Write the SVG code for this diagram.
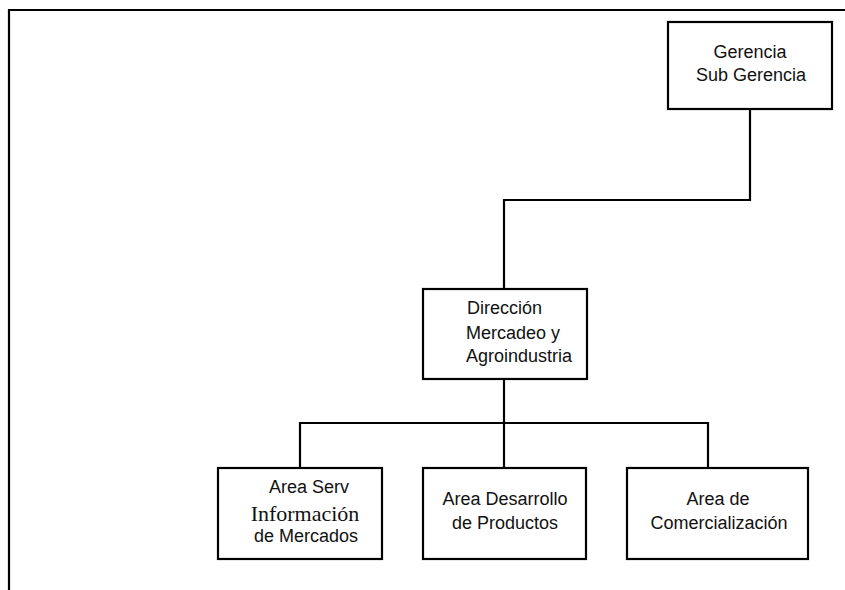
<svg xmlns="http://www.w3.org/2000/svg" width="845" height="590" viewBox="0 0 845 590">
<style>
.box{fill:#fff;stroke:#000;stroke-width:2.2}
.ln{fill:none;stroke:#000;stroke-width:2.2}
.t{font-family:"Liberation Sans",Arial,sans-serif;font-size:18px;fill:#111}
.s{font-family:"Liberation Serif","Times New Roman",serif;font-size:22px;fill:#111}
.c{text-anchor:middle}
</style>
<rect width="845" height="590" fill="#fff"/>
<g id="frame">
<polyline class="ln" points="9,590 9,10 845,10"/>
</g>
<g id="connectors">
<polyline class="ln" points="750,109 750,200 504,200 504,289"/>
<line class="ln" x1="504" y1="379" x2="504" y2="468"/>
<polyline class="ln" points="300,468 300,423 708,423 708,468"/>
</g>
<g id="gerencia">
<rect class="box" x="668" y="22" width="164" height="87"/>
<text class="t c" x="750" y="58">Gerencia</text>
<text class="t c" x="751" y="81">Sub Gerencia</text>
</g>
<g id="direccion">
<rect class="box" x="423" y="289" width="164" height="90"/>
<text class="t" x="467" y="314">Dirección</text>
<text class="t" x="466" y="339">Mercadeo y</text>
<text class="t" x="466" y="362">Agroindustria</text>
</g>
<g id="area-info">
<rect class="box" x="218" y="468" width="164" height="91"/>
<text class="t c" x="309" y="493">Area Serv</text>
<text class="s c" x="305" y="521">Información</text>
<text class="t c" x="306" y="542">de Mercados</text>
</g>
<g id="area-desarrollo">
<rect class="box" x="423" y="468" width="163" height="91"/>
<text class="t c" x="505" y="505">Area Desarrollo</text>
<text class="t c" x="505" y="529">de Productos</text>
</g>
<g id="area-comercial">
<rect class="box" x="627" y="468" width="181" height="91"/>
<text class="t c" x="718" y="505">Area de</text>
<text class="t c" x="719" y="529">Comercialización</text>
</g>
</svg>
